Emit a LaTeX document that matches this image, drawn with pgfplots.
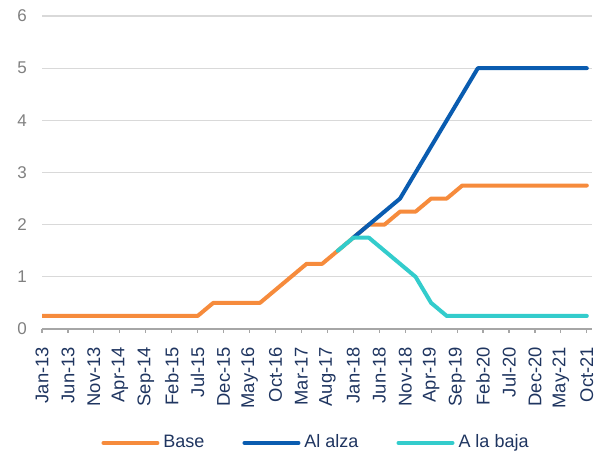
\documentclass[border=0pt]{standalone}
\usepackage{fontspec}
\setmainfont{Liberation Sans}
\usepackage{pgfplots}
\pgfplotsset{compat=1.18}

\definecolor{cbase}{HTML}{F68B3C}
\definecolor{calza}{HTML}{0A5CB0}
\definecolor{cbaja}{HTML}{33CCCC}
\definecolor{ctext}{HTML}{1F3560}
\definecolor{cgrey}{HTML}{808080}
\definecolor{cgrid}{HTML}{D9D9D9}
\definecolor{caxis}{HTML}{A6A6A6}

% month index: 0 = Jan-13, 105 = Oct-21
\pgfplotstableread{
x y
0 0.25
3 0.25
6 0.25
9 0.25
12 0.25
15 0.25
18 0.25
21 0.25
24 0.25
27 0.25
30 0.25
33 0.5
36 0.5
39 0.5
42 0.5
45 0.75
48 1.0
51 1.25
54 1.25
57 1.5
60 1.75
63 2.0
66 2.0
69 2.25
72 2.25
75 2.5
78 2.5
81 2.75
84 2.75
87 2.75
90 2.75
93 2.75
96 2.75
99 2.75
102 2.75
105 2.75
}\base

\pgfplotstableread{
x y
60 1.75
63 2.0
66 2.25
69 2.5
72 3.0
75 3.5
78 4.0
81 4.5
84 5.0
87 5.0
90 5.0
93 5.0
96 5.0
99 5.0
102 5.0
105 5.0
}\alza

\pgfplotstableread{
x y
57 1.5
60 1.75
63 1.75
66 1.5
69 1.25
72 1.0
75 0.5
78 0.25
81 0.25
84 0.25
87 0.25
90 0.25
93 0.25
96 0.25
99 0.25
102 0.25
105 0.25
}\baja

\begin{document}
\begin{tikzpicture}
\begin{axis}[
    at={(0,0)}, anchor=south west,
    scale only axis,
    width=275pt, height=156.5pt,
    xmin=0, xmax=106, ymin=0, ymax=6,
    axis x line*=bottom, axis y line*=left,
    x axis line style={draw=caxis, line width=0.6pt},
    y axis line style={draw=none},
    ymajorgrids,
    grid style={draw=cgrid, line width=0.6pt},
    ytick={0,1,...,6},
    ytick style={draw=none},
    yticklabel style={font=\fontsize{8.5}{10}\selectfont, text=cgrey, xshift=-4pt},
    xtick={0,5,...,105},
    xticklabels={Jan-13,Jun-13,Nov-13,Apr-14,Sep-14,Feb-15,Jul-15,Dec-15,May-16,Oct-16,Mar-17,Aug-17,Jan-18,Jun-18,Nov-18,Apr-19,Sep-19,Feb-20,Jul-20,Dec-20,May-21,Oct-21},
    xtick align=outside,
    xtick style={draw=caxis, line width=0.6pt},
    major tick length=2pt,
    xticklabel style={rotate=90, anchor=east, xshift=-3.5pt, font=\fontsize{9.2}{10}\selectfont, text=ctext},
    /pgf/number format/assume math mode=true,
    legend columns=3,
    legend style={at={(0.5,-0.364)}, anchor=center, draw=none, fill=none,
        font=\fontsize{9}{10}\selectfont, text=ctext,
        /tikz/every even column/.append style={column sep=17pt}},
    legend image code/.code={\draw[#1] (0pt,0pt) -- (27pt,0pt);},
    every axis plot/.append style={line width=2pt, line cap=round, line join=round},
]
\addplot[cbase] table {\base};
\addlegendentry{Base}
\addplot[calza] table {\alza};
\addlegendentry{Al alza}
\addplot[cbaja] table {\baja};
\addlegendentry{A la baja}
\end{axis}
\pgfresetboundingbox
\path[use as bounding box] (-21pt,-62pt) rectangle (286.5pt,164.5pt);
\end{tikzpicture}
\end{document}
